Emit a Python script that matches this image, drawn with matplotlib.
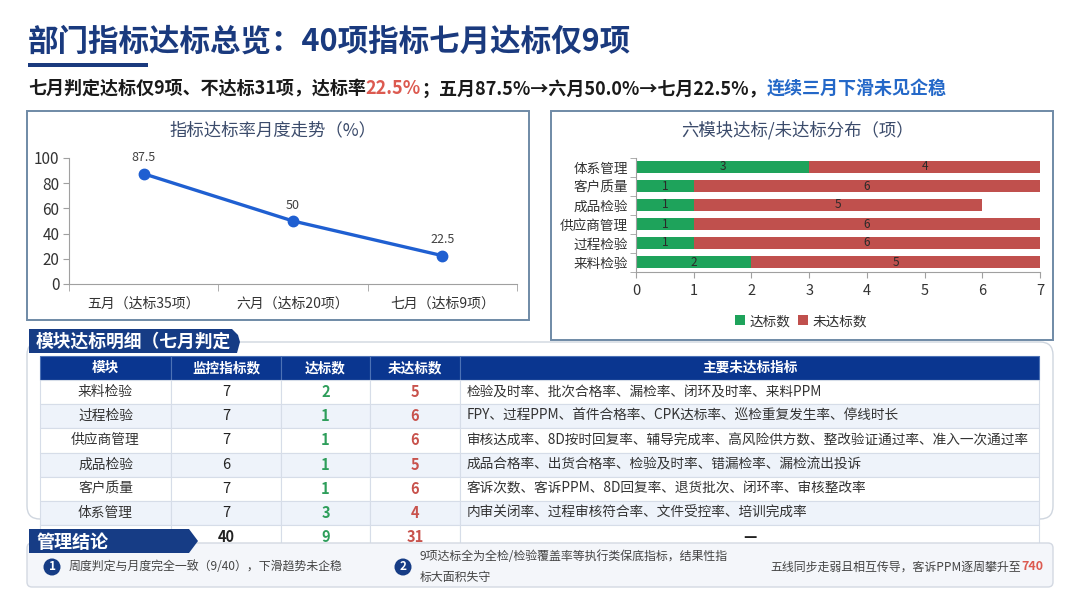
import matplotlib
matplotlib.use('Agg')
import matplotlib.pyplot as plt
from matplotlib.patches import Rectangle, FancyBboxPatch, Polygon, Circle

plt.rcParams['font.family'] = ['Noto Sans CJK SC', 'DejaVu Sans']
plt.rcParams['axes.unicode_minus'] = False

W, H = 1080, 608

# ---------------- data ----------------
title_text = '部门指标达标总览：40项指标七月达标仅9项'
subtitle_parts = [
    ('七月判定达标仅9项、不达标31项，达标率', 'k'),
    ('22.5%', 'red'),
    ('；五月87.5%→六月50.0%→七月22.5%，', 'k'),
    ('连续三月下滑未见企稳', 'blue'),
]

months = ['五月（达标35项）', '六月（达标20项）', '七月（达标9项）']
rates = [87.5, 50, 22.5]
line_title = '指标达标率月度走势（%）'

modules = ['来料检验', '过程检验', '供应商管理', '成品检验', '客户质量', '体系管理']
monitored = [7, 7, 7, 6, 7, 7]
passed = [2, 1, 1, 1, 1, 3]
failed = [5, 6, 6, 5, 6, 4]
bar_title = '六模块达标/未达标分布（项）'
legend_labels = ['达标数', '未达标数']

main_failed = [
    '检验及时率、批次合格率、漏检率、闭环及时率、来料PPM',
    'FPY、过程PPM、首件合格率、CPK达标率、巡检重复发生率、停线时长',
    '审核达成率、8D按时回复率、辅导完成率、高风险供方数、整改验证通过率、准入一次通过率',
    '成品合格率、出货合格率、检验及时率、错漏检率、漏检流出投诉',
    '客诉次数、客诉PPM、8D回复率、退货批次、闭环率、审核整改率',
    '内审关闭率、过程审核符合率、文件受控率、培训完成率',
]
table_header = ['模块', '监控指标数', '达标数', '未达标数', '主要未达标指标']
totals = ['', '40', '9', '31', '—']
table_tab = '模块达标明细（七月判定'

concl_tab = '管理结论'
concl_1 = '周度判定与月度完全一致（9/40），下滑趋势未企稳'
concl_2 = ['9项达标全为全检/检验覆盖率等执行类保底指标，结果性指', '标大面积失守']
concl_3 = ('五线同步走弱且相互传导，客诉PPM逐周攀升至', '740')

# ---------------- colours ----------------
NAVY = '#1a3a7e'
HEAD = '#0a3690'
GREEN = '#1ea35b'
RED = '#c0504d'
TGREEN = '#2e9e5b'
TRED = '#c8524c'
SUB_RED = '#dc5a50'
SUB_BLUE = '#2468c8'
PANEL_EDGE = '#6f8aa6'

fig = plt.figure(figsize=(W / 100, H / 100), dpi=100)
fig.patch.set_facecolor('white')

bg = fig.add_axes([0, 0, 1, 1])
bg.set_xlim(0, W)
bg.set_ylim(H, 0)
bg.axis('off')
bg.set_zorder(0)

renderer = fig.canvas.get_renderer()


def fax(x0, y0, x1, y1):
    return fig.add_axes([x0 / W, 1 - y1 / H, (x1 - x0) / W, (y1 - y0) / H])


# ---------------- title ----------------
bg.text(28, 42, title_text, fontsize=22, fontweight='bold', color=NAVY,
        va='center', ha='left')
bg.add_patch(Rectangle((28, 63), 120, 4, color=NAVY, lw=0))

cmap = {'k': '#1a1a1a', 'red': SUB_RED, 'blue': SUB_BLUE}
x = 28
for s, c in subtitle_parts:
    t = bg.text(x, 89, s, fontsize=13, fontweight='bold', color=cmap[c],
                va='center', ha='left')
    x += t.get_window_extent(renderer=renderer).width

# ---------------- panels ----------------
bg.add_patch(Rectangle((27, 111), 502, 209, facecolor='white',
                       edgecolor=PANEL_EDGE, lw=1.4))
bg.add_patch(Rectangle((551, 111), 502, 229, facecolor='white',
                       edgecolor=PANEL_EDGE, lw=1.4))

bg.text(273, 130, line_title, fontsize=12.5, color='#3b4b6b', ha='center', va='center')
bg.text(798, 130, bar_title, fontsize=12.5, color='#3b4b6b', ha='center', va='center')

# ---------------- line chart ----------------
ax1 = fax(69, 158, 517, 284)
ax1.set_zorder(2)
xs = list(range(len(months)))
ax1.plot(xs, rates, color='#1f5fd1', lw=2.4, marker='o', ms=7.5,
         clip_on=False, zorder=3)
for xi, v in zip(xs, rates):
    ax1.annotate(f'{v:g}', (xi, v), xytext=(0, 11.5), textcoords='offset points',
                 ha='center', va='center', fontsize=9, color='#404040')
ax1.set_xlim(-0.5, len(months) - 0.5)
ax1.set_ylim(0, 100)
ax1.set_yticks(range(0, 101, 20))
ax1.set_xticks(xs)
ax1.set_xticklabels(months, fontsize=10, color='#333333')
ax1.set_xticks([i - 0.5 for i in range(len(months) + 1)], minor=True)
ax1.tick_params(axis='x', which='major', length=0, pad=9)
ax1.tick_params(axis='x', which='minor', length=5, color='#a0a0a0')
ax1.tick_params(axis='y', length=4, color='#a0a0a0', labelsize=11,
                labelcolor='#333333', pad=3)
for sp in ['top', 'right']:
    ax1.spines[sp].set_visible(False)
for sp in ['left', 'bottom']:
    ax1.spines[sp].set_color('#a0a0a0')
ax1.set_facecolor('none')

# ---------------- bar chart ----------------
ax2 = fax(636, 157.5, 1040, 271.5)
ax2.set_zorder(2)
ys = list(range(len(modules)))
c1 = ax2.barh(ys, passed, height=0.6, color=GREEN, label=legend_labels[0])
c2 = ax2.barh(ys, failed, left=passed, height=0.6, color=RED, label=legend_labels[1])
ax2.bar_label(c1, label_type='center', fontsize=8.5, color='#2a2a2a')
ax2.bar_label(c2, label_type='center', fontsize=8.5, color='#2a2a2a')
ax2.set_xlim(0, 7)
ax2.set_ylim(-0.5, len(modules) - 0.5)
ax2.set_xticks(range(0, 8))
ax2.set_yticks(ys)
ax2.set_yticklabels(modules, fontsize=9.8, color='#333333')
ax2.set_yticks([i - 0.5 for i in range(len(modules) + 1)], minor=True)
ax2.tick_params(axis='y', which='major', length=0, pad=6)
ax2.tick_params(axis='y', which='minor', length=4, color='#a0a0a0')
ax2.tick_params(axis='x', length=4, color='#a0a0a0', labelsize=10.5,
                labelcolor='#333333', pad=5)
for sp in ['top', 'right']:
    ax2.spines[sp].set_visible(False)
for sp in ['left', 'bottom']:
    ax2.spines[sp].set_color('#a0a0a0')
ax2.set_facecolor('none')
ax2.legend(loc='center', bbox_to_anchor=(801 / W, 1 - 321 / H),
           bbox_transform=fig.transFigure, ncol=2, frameon=False,
           fontsize=9.8, handlelength=0.75, handleheight=0.75,
           handletextpad=0.3, columnspacing=0.6, labelcolor='#333333')

# ---------------- table panel ----------------
bg.add_patch(FancyBboxPatch((27, 342), 1026, 177,
                            boxstyle='round,pad=0,rounding_size=13',
                            facecolor='white', edgecolor='#cfd6df', lw=1.0, zorder=1))

col_x = [40, 171, 281, 370, 460, 1039]
head_y0, head_y1 = 356, 380
row_h = (525 - 380) / len(modules)

# header
for j, lab in enumerate(table_header):
    bg.add_patch(Rectangle((col_x[j], head_y0), col_x[j + 1] - col_x[j], head_y1 - head_y0,
                           facecolor=HEAD, edgecolor='#4d72b5', lw=0.8, zorder=2))
    bg.text((col_x[j] + col_x[j + 1]) / 2, (head_y0 + head_y1) / 2, lab,
            color='white', fontsize=9.8, fontweight='bold', ha='center', va='center', zorder=3)

rows = []
for i in range(len(modules)):
    rows.append([modules[i], str(monitored[i]), str(passed[i]), str(failed[i]), main_failed[i]])
rows.append(totals)

for i, row in enumerate(rows):
    y0 = head_y1 + i * row_h
    fc = '#eef3fa' if (i % 2 == 1 and i < len(modules)) else 'white'
    for j, val in enumerate(row):
        bg.add_patch(Rectangle((col_x[j], y0), col_x[j + 1] - col_x[j], row_h,
                               facecolor=fc, edgecolor='#d6dde8', lw=0.8, zorder=2))
        yc = y0 + row_h / 2
        total = i == len(modules)
        if j == 0:
            bg.text((col_x[0] + col_x[1]) / 2, yc, val, fontsize=9.9, color='#333333',
                    ha='center', va='center', zorder=3)
        elif j == 1:
            bg.text((col_x[1] + col_x[2]) / 2, yc, val, fontsize=10.5, color='#222222',
                    fontweight='bold' if total else 'normal', ha='center', va='center', zorder=3)
        elif j == 2:
            bg.text((col_x[2] + col_x[3]) / 2, yc, val, fontsize=10.5, color=TGREEN,
                    fontweight='bold', ha='center', va='center', zorder=3)
        elif j == 3:
            bg.text((col_x[3] + col_x[4]) / 2, yc, val, fontsize=10.5, color=TRED,
                    fontweight='bold', ha='center', va='center', zorder=3)
        else:
            if total:
                bg.text((col_x[4] + col_x[5]) / 2, yc, val, fontsize=10.5, color='#222222',
                        fontweight='bold', ha='center', va='center', zorder=3)
            else:
                bg.text(col_x[4] + 7, yc, val, fontsize=9.85, color='#333333',
                        ha='left', va='center', zorder=3)

# table tab
bg.add_patch(Polygon([(29, 353), (29, 329), (232, 329), (238, 335), (240, 342),
                      (237, 353)], closed=True, facecolor='#163c85', edgecolor='none', zorder=4))
bg.text(36, 342, table_tab, color='white', fontsize=12.8, fontweight='bold',
        ha='left', va='center', zorder=5)

# ---------------- conclusion ----------------
bg.add_patch(FancyBboxPatch((27, 543), 1026, 44, boxstyle='round,pad=0,rounding_size=5',
                            facecolor='#f4f6fa', edgecolor='#d3d9e2', lw=1.0, zorder=6))
bg.add_patch(Polygon([(29, 529), (189, 529), (198, 541), (189, 553), (29, 553)],
                     closed=True, facecolor='#163c85', edgecolor='none', zorder=7))
bg.text(37, 543, concl_tab, color='white', fontsize=13, fontweight='bold',
        ha='left', va='center', zorder=8)

for (cx, cy), num in [((52, 567), '1'), ((403, 567), '2')]:
    bg.add_patch(Circle((cx, cy), 8.5, facecolor='#163c85', edgecolor='none', zorder=7))
    bg.text(cx, cy, num, color='white', fontsize=8.5, fontweight='bold',
            ha='center', va='center', zorder=8)

bg.text(69, 567, concl_1, fontsize=8.6, color='#444444', ha='left', va='center', zorder=8)
bg.text(420, 557, concl_2[0], fontsize=8.6, color='#444444', ha='left', va='center', zorder=8)
bg.text(420, 577, concl_2[1], fontsize=8.6, color='#444444', ha='left', va='center', zorder=8)
t740 = bg.text(1043, 567, concl_3[1], fontsize=9, color=SUB_RED, fontweight='bold',
               ha='right', va='center', zorder=8)
w740 = t740.get_window_extent(renderer=renderer).width
bg.text(1043 - w740, 567, concl_3[0], fontsize=8.6, color='#444444',
        ha='right', va='center', zorder=8)

fig.savefig('out.png', dpi=100, facecolor='white')
